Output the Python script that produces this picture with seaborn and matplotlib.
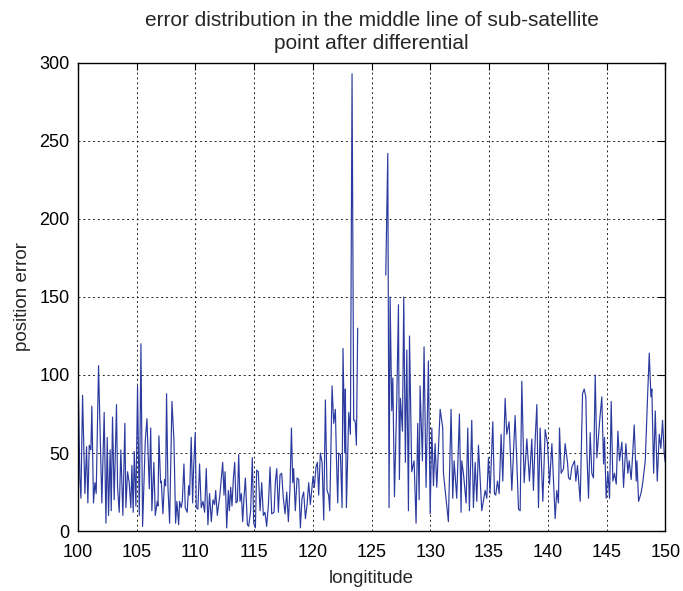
import numpy as np
import pandas as pd
import matplotlib
matplotlib.use("Agg")
import matplotlib.pyplot as plt
import seaborn as sns

# === DATA ===
# west part of the track, before the data gap
lon_west = [
    100.02, 100.17, 100.26, 100.40, 100.60, 100.74, 100.85, 100.97, 101.11, 101.19,
    101.33, 101.45, 101.56, 101.76, 101.87, 102.04, 102.24, 102.39, 102.50, 102.61,
    102.75, 102.84, 102.95, 103.09, 103.29, 103.38, 103.52, 103.66, 103.83, 104.00,
    104.09, 104.23, 104.37, 104.51, 104.60, 104.71, 104.80, 104.94, 105.08, 105.23,
    105.37, 105.51, 105.74, 105.88, 106.08, 106.20, 106.30, 106.47, 106.59, 106.76,
    106.82, 106.90, 107.04, 107.10, 107.24, 107.38, 107.47, 107.55, 107.67, 107.81,
    108.01, 108.18, 108.32, 108.43, 108.58, 108.66, 108.80, 108.89, 109.03, 109.14,
    109.31, 109.43, 109.51, 109.65, 109.77, 109.85, 109.99, 110.08, 110.22, 110.36,
    110.50, 110.65, 110.79, 110.93, 111.07, 111.21, 111.36, 111.50, 111.64, 111.73,
    111.87, 112.10, 112.33, 112.44, 112.53, 112.67, 112.81, 112.90, 113.01, 113.12,
    113.24, 113.35, 113.46, 113.58, 113.69, 113.80, 113.92, 114.03, 114.14, 114.26,
    114.43, 114.54, 114.71, 114.85, 114.97, 115.11, 115.22, 115.36, 115.51, 115.65,
    115.79, 115.93, 116.07, 116.22, 116.36, 116.50, 116.70, 116.81, 116.93, 117.07,
    117.21, 117.35, 117.49, 117.64, 117.78, 117.92, 118.06, 118.18, 118.29, 118.37,
    118.51, 118.66, 118.80, 118.94, 119.08, 119.22, 119.37, 119.51, 119.65, 119.79,
    119.93, 120.02, 120.13, 120.27, 120.39, 120.50, 120.64, 120.79, 120.93, 121.07,
    121.21, 121.35, 121.44, 121.64, 121.78, 121.92, 122.01, 122.12, 122.20, 122.35,
    122.49, 122.57, 122.72, 122.77, 122.86, 122.97, 123.06, 123.20, 123.34, 123.48,
    123.57, 123.62, 123.71, 123.82,
]
err_west = [
    102, 34, 21, 87, 24, 54, 18, 55, 52, 80,
    18, 31, 24, 106, 71, 18, 76, 5, 60, 10,
    52, 13, 73, 20, 81, 28, 12, 52, 10, 69,
    15, 38, 31, 15, 42, 12, 51, 16, 93, 10,
    120, 3, 58, 72, 27, 66, 13, 44, 10, 19,
    16, 61, 31, 32, 11, 33, 29, 88, 28, 5,
    83, 58, 5, 19, 4, 19, 15, 19, 43, 15,
    12, 29, 23, 60, 18, 40, 63, 15, 14, 43,
    15, 19, 12, 40, 4, 24, 6, 20, 17, 26,
    10, 24, 44, 23, 38, 2, 26, 13, 28, 16,
    34, 44, 18, 19, 49, 19, 24, 6, 21, 34,
    4, 3, 13, 47, 5, 2, 39, 38, 13, 31,
    10, 12, 3, 17, 41, 11, 12, 31, 40, 12,
    36, 37, 21, 11, 25, 6, 28, 66, 31, 40,
    13, 34, 33, 2, 21, 25, 8, 17, 31, 17,
    28, 35, 28, 41, 44, 23, 50, 44, 7, 84,
    26, 23, 13, 93, 69, 78, 47, 18, 50, 49,
    15, 117, 50, 91, 15, 50, 76, 62, 293, 71,
    71, 69, 55, 130,
]

# east part of the track, after the data gap
lon_east = [
    126.21, 126.38, 126.49, 126.58, 126.72, 126.81, 126.95, 127.15, 127.29, 127.37,
    127.46, 127.63, 127.74, 127.88, 128.00, 128.14, 128.23, 128.42, 128.62, 128.79,
    128.93, 129.05, 129.13, 129.33, 129.47, 129.64, 129.84, 129.99, 130.13, 130.27,
    130.41, 130.55, 130.84, 131.06, 131.12, 131.54, 131.77, 131.91, 132.03, 132.25,
    132.48, 132.62, 132.68, 132.82, 133.05, 133.19, 133.33, 133.53, 133.67, 133.82,
    133.96, 134.10, 134.38, 134.67, 134.81, 134.95, 135.09, 135.32, 135.46, 135.57,
    135.72, 135.86, 136.03, 136.17, 136.37, 136.51, 136.71, 136.94, 137.22, 137.51,
    137.65, 137.79, 137.99, 138.22, 138.44, 138.64, 138.78, 138.93, 139.07, 139.21,
    139.35, 139.58, 139.78, 139.98, 140.15, 140.35, 140.63, 140.77, 140.91, 141.00,
    141.14, 141.34, 141.48, 141.68, 141.77, 141.91, 142.05, 142.28, 142.39, 142.53,
    142.76, 142.96, 143.10, 143.24, 143.33, 143.47, 143.61, 143.75, 143.89, 144.04,
    144.18, 144.41, 144.60, 144.75, 144.83, 144.97, 145.12, 145.26, 145.40, 145.54,
    145.68, 145.83, 145.97, 146.11, 146.31, 146.45, 146.65, 146.82, 146.93, 147.10,
    147.24, 147.36, 147.53, 147.59, 147.73, 147.93, 148.07, 148.30, 148.50, 148.64,
    148.78, 148.86, 149.01, 149.15, 149.32, 149.49, 149.63, 149.77, 149.91, 150.00,
]
err_east = [
    164, 242, 15, 150, 77, 98, 22, 85, 145, 33,
    85, 64, 150, 44, 116, 13, 125, 38, 45, 5,
    69, 20, 93, 45, 118, 28, 109, 11, 66, 29,
    56, 28, 78, 66, 37, 6, 78, 21, 45, 21,
    75, 12, 45, 37, 18, 66, 13, 71, 15, 44,
    19, 55, 13, 26, 21, 47, 24, 70, 24, 23,
    32, 24, 62, 32, 85, 62, 70, 26, 74, 14,
    13, 96, 31, 59, 32, 59, 26, 59, 81, 15,
    66, 19, 65, 56, 30, 56, 8, 26, 18, 66,
    37, 40, 56, 44, 34, 33, 41, 45, 32, 42,
    19, 88, 91, 86, 50, 21, 63, 37, 34, 100,
    47, 70, 86, 43, 60, 21, 38, 21, 83, 32,
    37, 30, 64, 45, 57, 28, 56, 37, 45, 33,
    51, 68, 32, 45, 19, 24, 30, 45, 87, 114,
    86, 91, 37, 77, 32, 62, 53, 71, 50, 44,
]

X_TICKS = list(range(100, 151, 5))
Y_TICKS = list(range(0, 301, 50))

df = pd.concat([
    pd.DataFrame({"longitude": lon_west, "error": err_west, "segment": "west"}),
    pd.DataFrame({"longitude": lon_east, "error": err_east, "segment": "east"}),
], ignore_index=True)

sns.set_theme(style="white")
plt.rcParams["font.family"] = ["Liberation Sans", "DejaVu Sans"]

fig = plt.figure(figsize=(6.83, 5.91), dpi=100)
ax = fig.add_axes([0.114, 0.1015, 0.86, 0.792])

# units= keeps the two track pieces apart, so the gap 124-126 stays empty
sns.lineplot(data=df, x="longitude", y="error", units="segment", estimator=None,
             sort=False, color="#2b3a9e", linewidth=0.85, ax=ax)

ax.set_xlim(100, 150)
ax.set_ylim(0, 300)
ax.set_xticks(X_TICKS)
ax.set_yticks(Y_TICKS)
ax.grid(True, color="#222222", linestyle=(0, (2, 3)), linewidth=0.7)
ax.tick_params(direction="in", length=5, width=0.8, top=True, right=True,
               labelsize=13, colors="black")
ax.tick_params(axis="x", pad=9)
ax.tick_params(axis="y", pad=6)
for s in ax.spines.values():
    s.set_visible(True)
    s.set_color("black")
    s.set_linewidth(1.0)

ax.set_xlabel("longititude", fontsize=13.5, labelpad=7)
ax.set_ylabel("position error", fontsize=13.5, labelpad=6)
ax.set_title("error distribution in the middle line of sub-satellite\npoint after differential",
             fontsize=15, pad=10, linespacing=1.3)

fig.savefig("out.png", dpi=100)
